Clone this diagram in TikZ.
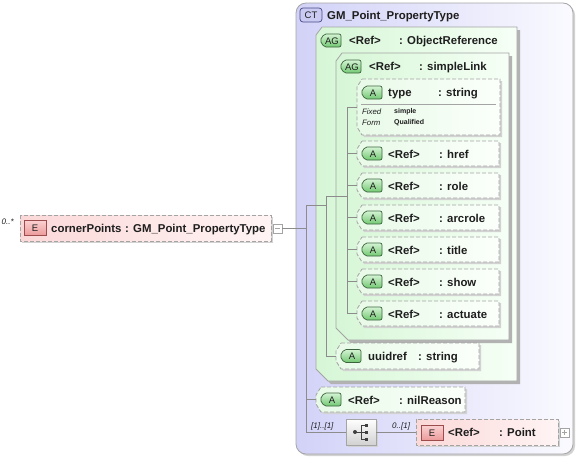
\documentclass[tikz,border=0pt]{standalone}
\usepackage{fontspec}
\setmainfont{Liberation Sans}
\definecolor{bordc}{HTML}{A4A4A4}
\definecolor{linec}{HTML}{8C8C8C}
\definecolor{ctL}{HTML}{D2D2F8}
\definecolor{ctR}{HTML}{FAFAFF}
\definecolor{agL}{HTML}{D6F6D6}
\definecolor{agR}{HTML}{F6FFF6}
\definecolor{atL}{HTML}{E8FAE8}
\definecolor{atR}{HTML}{FBFFFB}
\definecolor{elL}{HTML}{FBD8D8}
\definecolor{elR}{HTML}{FFF4F4}
\definecolor{shadc}{HTML}{D2D2D2}
\definecolor{bgT}{HTML}{D4F4D4}
\definecolor{bgB}{HTML}{72C872}
\definecolor{bdgG}{HTML}{3C643C}
\definecolor{ebT}{HTML}{FAD0D0}
\definecolor{ebB}{HTML}{EC9A9A}
\definecolor{ebD}{HTML}{9C4C4C}
\definecolor{ctbF}{HTML}{CACAF2}
\definecolor{ctbD}{HTML}{4A4A84}
\definecolor{txt}{HTML}{1E1E1E}
% holder node for naming a box
\newcommand\holdbox[5]{\node[holder, minimum width=#4pt, minimum height=#5pt] (#1) at (#2,#3) {};}
% attribute box: name x y w h
\newcommand\attrshape[5]{%
  \fill[shadc] (#2+7,#3+2) -- (#2+#4+2,#3+2) -- (#2+#4+2,#3+#5+2) -- (#2+7,#3+#5+2) -- (#2+2,#3+#5-6) -- (#2+2,#3+10) -- cycle;
  \path[draw=bordc, dsh, line width=0.8pt, left color=atL, right color=atR] (#2+5,#3) -- (#2+#4,#3) -- (#2+#4,#3+#5) -- (#2+5,#3+#5) -- (#2,#3+#5-8) -- (#2,#3+8) -- cycle;
  \holdbox{#1}{#2}{#3}{#4}{#5}}
% group box: name x y w h
\newcommand\groupshape[5]{%
  \fill[shadc!85!black] (#2+9,#3+3) -- (#2+#4+3,#3+3) -- (#2+#4+3,#3+#5+3) -- (#2+15,#3+#5+3) -- (#2+3,#3+#5-9) -- (#2+3,#3+11) -- cycle;
  \path[draw=bordc, line width=0.8pt, left color=agL, right color=agR] (#2+6,#3) -- (#2+#4,#3) -- (#2+#4,#3+#5) -- (#2+12,#3+#5) -- (#2,#3+#5-12) -- (#2,#3+8) -- cycle;
  \holdbox{#1}{#2}{#3}{#4}{#5}}
% element box: name x y w h
\newcommand\elemshape[5]{%
  \fill[shadc] (#2+2,#3+2) rectangle (#2+#4+2,#3+#5+2);
  \path[draw=bordc, dsh, line width=0.8pt, left color=elL, right color=elR] (#2,#3) rectangle (#2+#4,#3+#5);
  \holdbox{#1}{#2}{#3}{#4}{#5}}
% green badge: name x y text
\newcommand\greenbadge[4]{%
  \path[draw=bdgG, line width=0.7pt, top color=bgT, bottom color=bgB, rounded corners=2pt] (#2+21,#3) -- (#2+4,#3) -- (#2,#3+6.5) -- (#2+4,#3+13) -- (#2+21,#3+13) -- cycle;
  \node[bdgtxt] (#1) at (#2+12,#3+6.8) {#4};}
% element badge: name x y
\newcommand\redbadge[3]{%
  \path[draw=ebD, line width=0.7pt, top color=ebT, bottom color=ebB] (#2,#3) rectangle (#2+22,#3+15);
  \node[bdgtxt] (#1) at (#2+11,#3+7.8) {E};}
\begin{document}
\begin{tikzpicture}[x=1pt,y=-1pt,
  holder/.style={inner sep=0pt, outer sep=0pt, anchor=north west, draw=none},
  dsh/.style={dash pattern=on 4pt off 2pt},
  lbl/.style={font=\bfseries\fontsize{11.4}{13}\selectfont, text=txt, inner sep=0pt, anchor=base west},
  small/.style={font=\bfseries\fontsize{7}{8}\selectfont, text=txt, inner sep=0pt, anchor=base west},
  smallit/.style={font=\itshape\fontsize{7.8}{8}\selectfont, text=txt, inner sep=0pt, anchor=base west},
  card/.style={font=\itshape\fontsize{8}{9}\selectfont, text=txt, inner sep=0pt, anchor=base west},
  bdgtxt/.style={font=\fontsize{9.5}{10}\selectfont, text=txt, inner sep=0pt},
  conn/.style={draw=linec, line width=0.8pt},
  tog/.style={draw=bordc, fill=white, line width=0.6pt, minimum size=9pt, inner sep=0pt},
]
\useasboundingbox (0,0) rectangle (577,458);

% complex type
\fill[shadc, rounded corners=10pt] (298,5) rectangle (575,456);
\path[draw=bordc, line width=0.8pt, rounded corners=10pt, left color=ctL, right color=ctR] (296,3) rectangle (573,454);
\holdbox{ct}{296}{3}{277}{451}
\path[draw=ctbD, line width=0.7pt, fill=ctbF, rounded corners=3pt] (300,8) rectangle (322,22);
\node[bdgtxt] (ctb) at (311,15.3) {CT};
\node[lbl] (ctt) at (327,19.5) {GM\_Point\_PropertyType};

% attribute groups
\groupshape{objref}{316}{27}{201}{354}
\greenbadge{objrefb}{320}{34}{AG}
\node[lbl] (objrefn) at (349,44) {<Ref>};
\node[lbl] (objreft) at (399,44) {: ObjectReference};

\groupshape{slink}{336}{53}{173}{287}
\greenbadge{slinkb}{340}{60}{AG}
\node[lbl] (slinkn) at (369,70) {<Ref>};
\node[lbl] (slinkt) at (419,70) {: simpleLink};

% type attribute
\attrshape{atype}{357}{79}{143}{56}
\greenbadge{atypeb}{361}{86}{A}
\node[lbl] (atypen) at (388,96) {type};
\node[lbl] (atypet) at (438,96) {: string};
\draw[draw=bordc, line width=0.6pt] (361,104.5) -- (496,104.5);
\node[smallit] (fixk) at (362,114.5) {Fixed};
\node[small] (fixv) at (394,113.5) {simple};
\node[smallit] (formk) at (362,125) {Form};
\node[small] (formv) at (394,124) {Qualified};

% simple link attributes
\attrshape{ahref}{357}{141}{142}{25}
\greenbadge{ahrefb}{361}{147}{A}
\node[lbl] (ahrefn) at (388,158) {<Ref>};
\node[lbl] (ahreft) at (439,158) {: href};

\attrshape{arole}{357}{173}{142}{25}
\greenbadge{aroleb}{361}{179}{A}
\node[lbl] (arolen) at (388,190) {<Ref>};
\node[lbl] (arolet) at (439,190) {: role};

\attrshape{aarc}{357}{205}{142}{25}
\greenbadge{aarcb}{361}{211}{A}
\node[lbl] (aarcn) at (388,222) {<Ref>};
\node[lbl] (aarct) at (439,222) {: arcrole};

\attrshape{atitle}{357}{237}{142}{25}
\greenbadge{atitleb}{361}{243}{A}
\node[lbl] (atitlen) at (388,254) {<Ref>};
\node[lbl] (atitlet) at (439,254) {: title};

\attrshape{ashow}{357}{269}{142}{25}
\greenbadge{ashowb}{361}{275}{A}
\node[lbl] (ashown) at (388,286) {<Ref>};
\node[lbl] (ashowt) at (439,286) {: show};

\attrshape{aact}{357}{301}{142}{25}
\greenbadge{aactb}{361}{307}{A}
\node[lbl] (aactn) at (388,318) {<Ref>};
\node[lbl] (aactt) at (439,318) {: actuate};

% uuidref
\attrshape{auuid}{336}{343}{143}{26}
\greenbadge{auuidb}{340}{349.5}{A}
\node[lbl] (auuidn) at (368,360) {uuidref};
\node[lbl] (auuidt) at (418,360) {: string};

% nilReason
\attrshape{anil}{316}{387}{149}{25}
\greenbadge{anilb}{320}{393}{A}
\node[lbl] (aniln) at (348,404) {<Ref>};
\node[lbl] (anilt) at (399,404) {: nilReason};

% sequence compositor
\fill[shadc] (348,421) rectangle (378,447);
\path[draw=bordc, line width=0.8pt, top color=white, bottom color=black!18] (346,419) rectangle (376,445);
\holdbox{seq}{346}{419}{30}{26}
\begin{scope}[black!75, line width=0.8pt]
\fill (355,432) circle (2pt);
\draw (355,432) -- (361,432);
\draw (361,425) -- (361,439);
\draw (361,425) -- (366,425) (361,432) -- (366,432) (361,439) -- (366,439);
\fill (364.5,423.5) rectangle (367.5,426.5);
\fill (364.5,430.5) rectangle (367.5,433.5);
\fill (364.5,437.5) rectangle (367.5,440.5);
\end{scope}
\node[card] (seqc) at (311,428) {[1]..[1]};
\node[card] (ptc) at (392,428) {0..[1]};

% Point element
\elemshape{pt}{416}{419}{142}{26}
\redbadge{ptb}{421}{425.5}
\node[lbl] (ptn) at (448,436) {<Ref>};
\node[lbl] (ptt) at (499,436) {: Point};
\node[tog] (ptp) at (564.5,432.5) {};
\draw[draw=bordc, line width=0.6pt] (ptp.center) ++(-2.5,0) -- ++(5,0) (ptp.center) ++(0,-2.5) -- ++(0,5);

% cornerPoints element
\elemshape{cp}{20}{215}{251}{26}
\redbadge{cpb}{24}{220.5}
\node[lbl] (cpn) at (51,232) {cornerPoints};
\node[lbl] (cpt) at (125,232) {: GM\_Point\_PropertyType};
\node[card] (cpc) at (1.5,224) {0..*};
\node[tog] (cpm) at (277.5,228.5) {};
\draw[draw=bordc, line width=0.6pt] (cpm.center) ++(-2.5,0) -- ++(5,0);

% connectors
\coordinate (s1top) at (306,205);
\coordinate (s1bot) at (306,432);
\coordinate (s2top) at (326,196);
\coordinate (s2bot) at (326,356);
\coordinate (s3top) at (347,107);
\coordinate (s3bot) at (347,313.5);
\draw[conn] (cpm.east) -- (cpm.east -| s1top);
\draw[conn] (s1top) -- (seq.west -| s1top);
\draw[conn] (s1top) -- (s1top -| s2top);
\draw[conn] (s2top) -- (auuid.west -| s2top);
\draw[conn] (s2top) -- (s2top -| s3top);
\draw[conn] (s3top) -- (aact.west -| s3top);
\foreach \n in {atype,ahref,arole,aarc,atitle,ashow,aact}
  \draw[conn] (\n.west -| s3top) -- (\n.west);
\draw[conn] (auuid.west -| s2top) -- (auuid.west);
\draw[conn] (anil.west -| s1top) -- (anil.west);
\draw[conn] (seq.west -| s1top) -- (seq.west);
\draw[conn] (seq.east) -- (pt.west);
\end{tikzpicture}
\end{document}
